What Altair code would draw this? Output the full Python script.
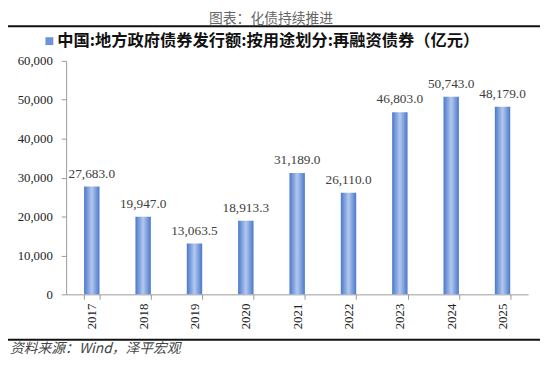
import altair as alt
import pandas as pd

years = ["2017", "2018", "2019", "2020", "2021", "2022", "2023", "2024", "2025"]
values = [27683.0, 19947.0, 13063.5, 18913.3, 31189.0, 26110.0, 46803.0, 50743.0, 48179.0]
labels = ["27,683.0", "19,947.0", "13,063.5", "18,913.3", "31,189.0", "26,110.0", "46,803.0", "50,743.0", "48,179.0"]
y_ticks = [0, 10000, 20000, 30000, 40000, 50000, 60000]

title_text = "图表：化债持续推进"
legend_text = "中国:地方政府债券发行额:按用途划分:再融资债券（亿元）"
source_text = "资料来源：Wind，泽平宏观"

df = pd.DataFrame({"year": years, "value": values, "label": labels})

W, H = 469, 237
serif = "Liberation Serif"
cjk = "Noto Sans CJK SC"

grad = alt.Gradient(
    gradient="linear", x1=0, x2=1, y1=0, y2=0,
    stops=[
        alt.GradientStop(color="#4a78cc", offset=0),
        alt.GradientStop(color="#b3c8ee", offset=0.5),
        alt.GradientStop(color="#4a78cc", offset=1),
    ],
)

xenc = alt.X("year:N", sort=years, title=None,
             scale=alt.Scale(paddingInner=0.7, paddingOuter=0.35),
             axis=alt.Axis(labelAngle=-90, labelFont=serif, labelFontSize=13, labelColor="#222",
                           tickBand="extent", domainColor="#999", tickColor="#999", tickSize=5,
                           labelPadding=4))
yenc = alt.Y("value:Q", title=None,
             scale=alt.Scale(domain=[0, 60000], nice=False),
             axis=alt.Axis(values=y_ticks, format=",.0f",
                           labelFont=serif, labelFontSize=13, labelColor="#222", grid=False,
                           labelOverlap=False,
                           domainColor="#999", tickColor="#999", tickSize=5, labelPadding=9))

bars = alt.Chart(df).mark_bar(color=grad).encode(x=xenc, y=yenc)
text = alt.Chart(df).mark_text(dy=-13, font=serif, fontSize=13.5, color="#404040").encode(
    x=xenc, y=yenc, text="label:N")

one = pd.DataFrame({"a": [0]})
base = alt.Chart(one)
title = base.mark_text(font=cjk, fontSize=14, color="#666", align="center", baseline="middle").encode(
    x=alt.value(208), y=alt.value(-42), text=alt.value(title_text))
top_line = base.mark_rule(color="#111", strokeWidth=2).encode(
    x=alt.value(-65), x2=alt.value(481), y=alt.value(-35))
bottom_line = base.mark_rule(color="#111", strokeWidth=2).encode(
    x=alt.value(-65), x2=alt.value(481), y=alt.value(283))
legend_sq = base.mark_square(color="#6f93d8", size=64, opacity=1).encode(
    x=alt.value(-17), y=alt.value(-20))
legend_tx = base.mark_text(font=cjk, fontSize=16.5, fontWeight="bold", color="#111", align="left",
                           baseline="middle").encode(
    x=alt.value(-9), y=alt.value(-20), text=alt.value(legend_text))
source = base.mark_text(font=cjk, fontSize=14, fontStyle="italic", color="#444", align="left",
                        baseline="middle").encode(
    x=alt.value(-57), y=alt.value(293), text=alt.value(source_text))

chart = alt.layer(bars, text, title, top_line, bottom_line, legend_sq, legend_tx, source).properties(
    width=W, height=H,
    autosize=alt.AutoSizeParams(type="none"),
    padding={"left": 59, "top": 51, "right": 14, "bottom": 63},
).configure_view(stroke=None)

chart.save("out.html", embed_options={"renderer": "svg", "actions": False})
